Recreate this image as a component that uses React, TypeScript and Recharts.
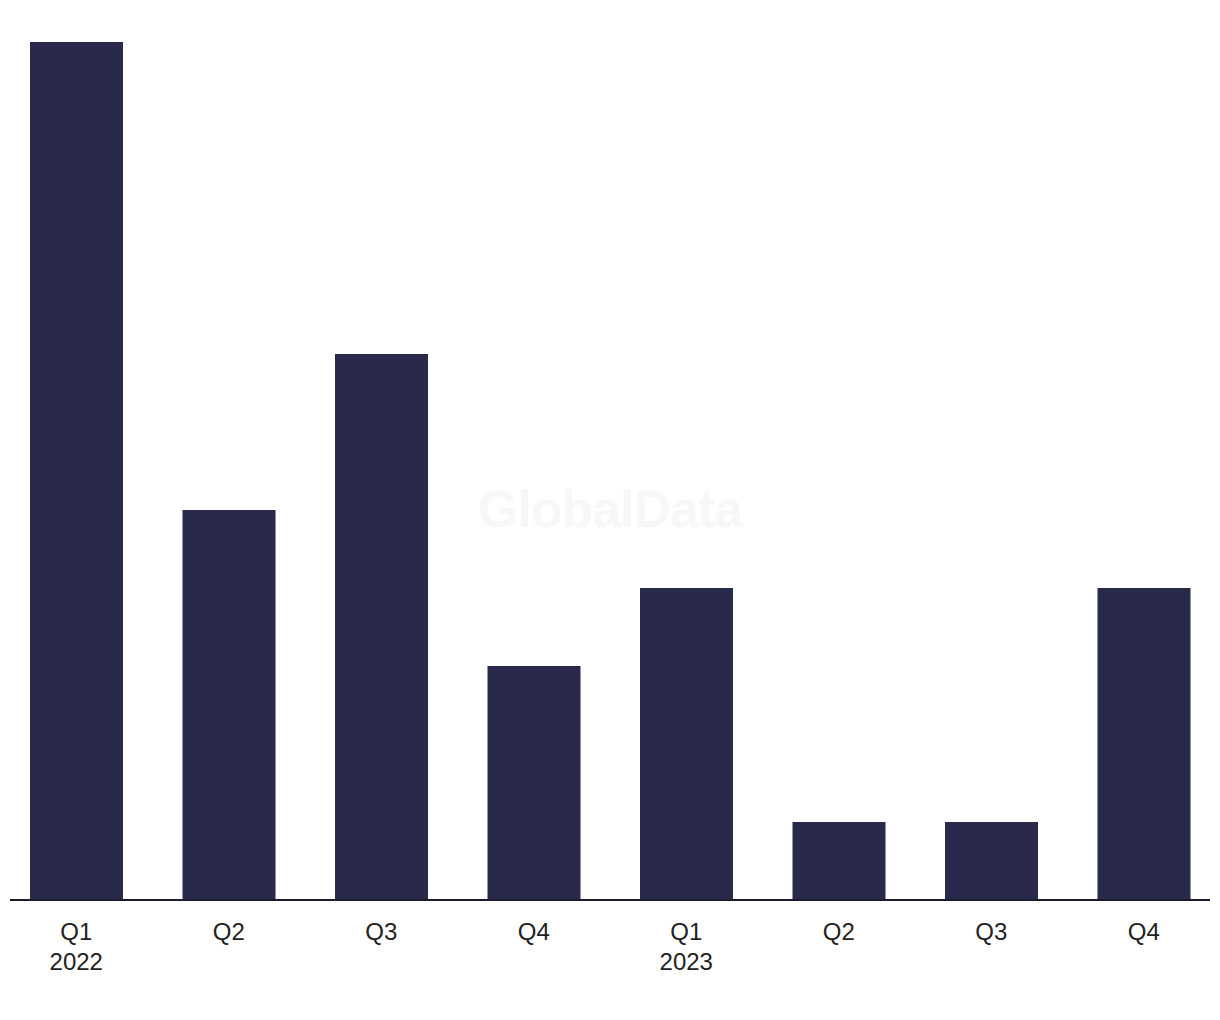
import { BarChart, Bar, XAxis, YAxis } from "recharts";

// quarters and deal counts
const quarters = ["Q1", "Q2", "Q3", "Q4", "Q1", "Q2", "Q3", "Q4"];
const years = ["2022", "", "", "", "2023", "", "", ""];
const deals = [11, 5, 7, 3, 4, 1, 1, 4];

const data = quarters.map((q, i) => ({ name: `${q}-${i}`, quarter: q, year: years[i], value: deals[i] }));

function QuarterTick(props: any) {
  const { x, y, payload } = props;
  const row = data[payload.index] || data.find((d) => d.name === payload.value);
  return (
    <g>
      <text x={x} y={y} textAnchor="middle" fill="#222" fontSize={24} fontFamily="'Liberation Sans', Arial, sans-serif">
        <tspan x={x} dy={32}>{row?.quarter}</tspan>
        {row?.year ? <tspan x={x} dy={30}>{row.year}</tspan> : null}
      </text>
    </g>
  );
}

export default function App() {
  return (
    <div style={{ position: "absolute", left: 0, top: 0, width: 1220, height: 1020, background: "#fff" }}>
      <div
        style={{
          position: "absolute", left: 0, width: 1220, top: 479, textAlign: "center",
          fontFamily: "'Liberation Sans', Arial, sans-serif", fontWeight: 700, fontSize: 52,
          color: "#f7f7f7", letterSpacing: -1,
        }}
      >
        GlobalData
      </div>
      <BarChart
        width={1220}
        height={1020}
        data={data}
        margin={{ top: 42, right: 10, left: 10, bottom: 20 }}
        barSize={93}
        style={{ position: "absolute", left: 0, top: 0 }}
      >
        <XAxis
          dataKey="name"
          height={100}
          tickLine={false}
          axisLine={{ stroke: "#1b1b2f", strokeWidth: 2 }}
          padding={{ left: -10, right: -10 }}
          interval={0}
          tick={<QuarterTick />}
        />
        <YAxis hide domain={[0, 11]} />
        <Bar dataKey="value" fill="#29294b" isAnimationActive={false} />
      </BarChart>
    </div>
  );
}
